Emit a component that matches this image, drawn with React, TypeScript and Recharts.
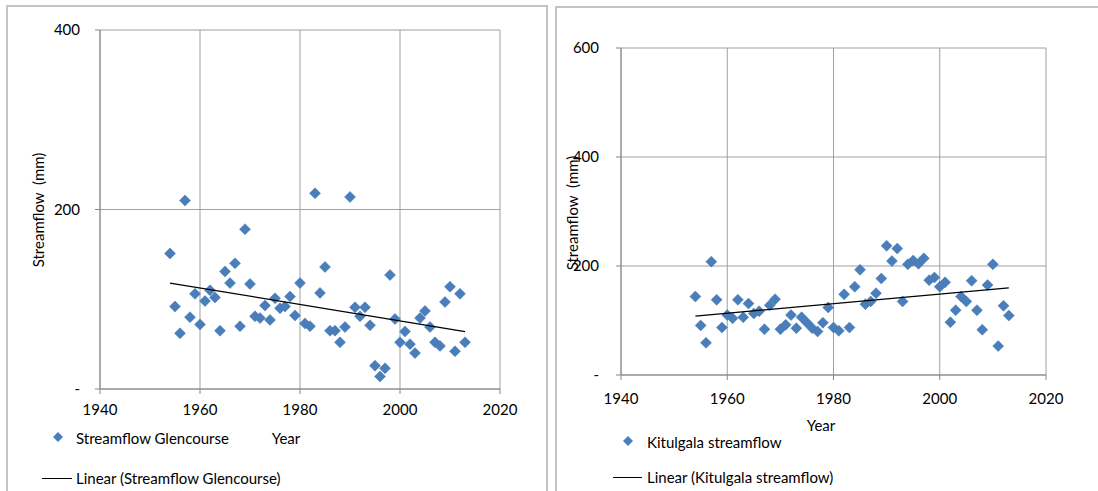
import React from "react"
import { CartesianGrid, Scatter, ScatterChart, XAxis, YAxis } from "recharts"

// years observed at both gauges
const years = [
  1954, 1955, 1956, 1957, 1958, 1959, 1960, 1961, 1962, 1963, 1964, 1965, 1966, 1967, 1968,
  1969, 1970, 1971, 1972, 1973, 1974, 1975, 1976, 1977, 1978, 1979, 1980, 1981, 1982, 1983,
  1984, 1985, 1986, 1987, 1988, 1989, 1990, 1991, 1992, 1993, 1994, 1995, 1996, 1997, 1998,
  1999, 2000, 2001, 2002, 2003, 2004, 2005, 2006, 2007, 2008, 2009, 2010, 2011, 2012, 2013,
]

// streamflow (mm)
const glencourse = [
  151, 92, 62, 210, 80, 106, 72, 98, 110, 102, 65, 131, 118, 140, 70,
  178, 117, 81, 79, 93, 77, 101, 90, 92, 103, 82, 118, 73, 70, 218,
  107, 136, 65, 65, 52, 69, 214, 91, 81, 91, 71, 26, 14, 23, 127,
  78, 52, 64, 50, 40, 79, 87, 69, 52, 48, 97, 114, 42, 106, 52,
]

const kitulgala = [
  144, 91, 59, 208, 138, 87, 110, 104, 138, 106, 131, 113, 117, 84, 128,
  139, 84, 92, 110, 86, 106, 96, 86, 80, 96, 124, 87, 81, 148, 87,
  162, 193, 130, 135, 150, 177, 237, 209, 232, 135, 203, 210, 204, 214, 174,
  179, 162, 170, 97, 119, 144, 135, 173, 119, 83, 165, 203, 53, 127, 109,
]

// linear trend end points
const glencourseTrendYears = [1954, 2013]
const glencourseTrendValues = [118, 64]
const kitulgalaTrendYears = [1954, 2013]
const kitulgalaTrendValues = [108, 160]

const xTicks = [1940, 1960, 1980, 2000, 2020]
const leftYTicks = [0, 200, 400]
const rightYTicks = [0, 200, 400, 600]

const toPoints = (xs: number[], ys: number[]) => xs.map((x, i) => ({ x, y: ys[i] }))

const glencourseData = toPoints(years, glencourse)
const kitulgalaData = toPoints(years, kitulgala)
const glencourseTrend = toPoints(glencourseTrendYears, glencourseTrendValues)
const kitulgalaTrend = toPoints(kitulgalaTrendYears, kitulgalaTrendValues)

const FONT = "Lato, 'Liberation Sans', sans-serif"
const BLUE = "#4a7ebb"
const GRID = "#a0a0a0"
const AXIS = "#868686"

const Diamond = (props: any) => {
  const { cx, cy } = props
  if (cx == null || cy == null) return <g />
  const r = 5.5
  return (
    <polygon
      points={`${cx},${cy - r} ${cx + r},${cy} ${cx},${cy + r} ${cx - r},${cy}`}
      fill={BLUE}
      stroke="#4477b4"
      strokeWidth={0.5}
    />
  )
}

const NoDot = () => <g />

const yFormat = (v: number) => (v === 0 ? "-" : String(v))

const tickStyle = { fill: "#000", fontSize: 15, fontFamily: FONT }

function Label({ x, y, children, rotate = false, center = false }: any) {
  return (
    <div
      style={{
        position: "absolute",
        left: x,
        top: y,
        fontFamily: FONT,
        fontSize: 15,
        lineHeight: 1,
        whiteSpace: "nowrap",
        color: "#000",
        transform: rotate
          ? "translate(-50%, -50%) rotate(-90deg)"
          : center
          ? "translate(-50%, -50%)"
          : "translateY(-50%)",
      }}
    >
      {children}
    </div>
  )
}

function LegendDiamond({ x, y }: { x: number; y: number }) {
  return (
    <svg style={{ position: "absolute", left: x - 6, top: y - 6 }} width={12} height={12}>
      <polygon points="6,1 11,6 6,11 1,6" fill={BLUE} />
    </svg>
  )
}

function LegendLine({ x1, x2, y }: { x1: number; x2: number; y: number }) {
  return (
    <div
      style={{ position: "absolute", left: x1, top: y, width: x2 - x1, height: 1, background: "#000" }}
    />
  )
}

interface PanelProps {
  data: { x: number; y: number }[]
  trend: { x: number; y: number }[]
  yMax: number
  yTicks: number[]
  margin: { top: number; right: number; bottom: number; left: number }
  yTickMargin: number
  xTickMargin: number
  width: number
}

function Panel({ data, trend, yMax, yTicks, margin, yTickMargin, xTickMargin, width }: PanelProps) {
  return (
    <ScatterChart width={width} height={491} margin={margin}>
      <CartesianGrid stroke={GRID} strokeWidth={1} />
      <XAxis
        type="number"
        dataKey="x"
        domain={[1940, 2020]}
        ticks={xTicks}
        interval={0}
        allowDataOverflow
        height={30}
        tickSize={5}
        tickMargin={xTickMargin}
        tick={tickStyle}
        stroke={AXIS}
      />
      <YAxis
        type="number"
        dataKey="y"
        domain={[0, yMax]}
        ticks={yTicks}
        interval={0}
        width={60}
        tickSize={5}
        tickMargin={yTickMargin}
        tick={tickStyle}
        tickFormatter={yFormat}
        stroke={AXIS}
      />
      <Scatter data={data} shape={Diamond} isAnimationActive={false} />
      <Scatter
        data={trend}
        shape={NoDot}
        line={{ stroke: "#000", strokeWidth: 1.2 }}
        isAnimationActive={false}
      />
    </ScatterChart>
  )
}

export default function App() {
  return (
    <div
      style={{
        position: "absolute",
        left: 0,
        top: 0,
        width: 1098,
        height: 491,
        background: "#fff",
        overflow: "hidden",
      }}
    >
      {/* panel frames */}
      <div
        style={{
          position: "absolute",
          left: 6,
          top: 5,
          width: 542,
          height: 520,
          border: "2px solid #c4c4c4",
          boxSizing: "border-box",
        }}
      />
      <div
        style={{
          position: "absolute",
          left: 555,
          top: 6,
          width: 600,
          height: 520,
          border: "2px solid #c4c4c4",
          boxSizing: "border-box",
        }}
      />

      <div style={{ position: "absolute", left: 0, top: 0 }}>
        <Panel
          data={glencourseData}
          trend={glencourseTrend}
          yMax={400}
          yTicks={leftYTicks}
          margin={{ top: 30, right: 50, bottom: 72, left: 40 }}
          yTickMargin={15}
          xTickMargin={10}
          width={550}
        />
      </div>
      <div style={{ position: "absolute", left: 550, top: 0 }}>
        <Panel
          data={kitulgalaData}
          trend={kitulgalaTrend}
          yMax={600}
          yTicks={rightYTicks}
          margin={{ top: 48, right: 52, bottom: 86, left: 11 }}
          yTickMargin={17}
          xTickMargin={13}
          width={548}
        />
      </div>

      {/* left panel texts */}
      <Label x={38} y={210} rotate>
        Streamflow&nbsp;&nbsp;(mm)
      </Label>
      <Label x={286} y={438} center>
        Year
      </Label>
      <LegendDiamond x={58} y={437} />
      <Label x={76} y={438}>Streamflow Glencourse</Label>
      <LegendLine x1={42} x2={72} y={478} />
      <Label x={76} y={478}>Linear (Streamflow Glencourse)</Label>

      {/* right panel texts */}
      <Label x={572} y={213} rotate>
        Streamflow&nbsp;&nbsp;(mm)
      </Label>
      <Label x={821} y={425} center>
        Year
      </Label>
      <LegendDiamond x={628} y={441} />
      <Label x={647} y={442}>Kitulgala streamflow</Label>
      <LegendLine x1={613} x2={642} y={477} />
      <Label x={647} y={477}>Linear (Kitulgala streamflow)</Label>
    </div>
  )
}
